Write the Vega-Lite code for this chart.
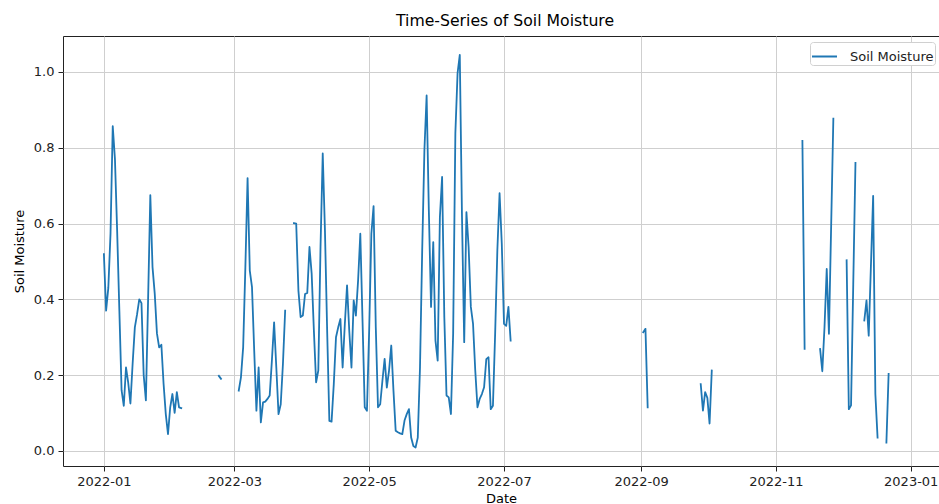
{
  "$schema": "https://vega.github.io/schema/vega-lite/v6.json",
  "autosize": {"type": "none"},
  "padding": {"left": 63, "top": 36, "right": 0, "bottom": 38},
  "width": 876,
  "height": 430,
  "background": "white",
  "config": {
    "font": "DejaVu Sans",
    "view": {"stroke": "#222", "strokeWidth": 1}
  },
  "title": {
    "text": "Time-Series of Soil Moisture",
    "fontSize": 15.7,
    "fontWeight": "normal",
    "font": "DejaVu Sans",
    "color": "#000",
    "anchor": "middle",
    "baseline": "alphabetic",
    "offset": -6,
    "dx": 4
  },
  "data": {
    "values": [
      {"date": "2022-01-01", "moisture": 0.519},
      {"date": "2022-01-02", "moisture": 0.37},
      {"date": "2022-01-03", "moisture": 0.43},
      {"date": "2022-01-04", "moisture": 0.574},
      {"date": "2022-01-05", "moisture": 0.857},
      {"date": "2022-01-06", "moisture": 0.77},
      {"date": "2022-01-07", "moisture": 0.58},
      {"date": "2022-01-08", "moisture": 0.37},
      {"date": "2022-01-09", "moisture": 0.16},
      {"date": "2022-01-10", "moisture": 0.119},
      {"date": "2022-01-11", "moisture": 0.22},
      {"date": "2022-01-12", "moisture": 0.18},
      {"date": "2022-01-13", "moisture": 0.125},
      {"date": "2022-01-14", "moisture": 0.23},
      {"date": "2022-01-15", "moisture": 0.326},
      {"date": "2022-01-16", "moisture": 0.36},
      {"date": "2022-01-17", "moisture": 0.4},
      {"date": "2022-01-18", "moisture": 0.39},
      {"date": "2022-01-19", "moisture": 0.2},
      {"date": "2022-01-20", "moisture": 0.133},
      {"date": "2022-01-21", "moisture": 0.4},
      {"date": "2022-01-22", "moisture": 0.675},
      {"date": "2022-01-23", "moisture": 0.485},
      {"date": "2022-01-24", "moisture": 0.415},
      {"date": "2022-01-25", "moisture": 0.31},
      {"date": "2022-01-26", "moisture": 0.273},
      {"date": "2022-01-27", "moisture": 0.28},
      {"date": "2022-01-28", "moisture": 0.177},
      {"date": "2022-01-29", "moisture": 0.097},
      {"date": "2022-01-30", "moisture": 0.044},
      {"date": "2022-01-31", "moisture": 0.115},
      {"date": "2022-02-01", "moisture": 0.15},
      {"date": "2022-02-02", "moisture": 0.1},
      {"date": "2022-02-03", "moisture": 0.155},
      {"date": "2022-02-04", "moisture": 0.115},
      {"date": "2022-02-05", "moisture": 0.113},
      {"date": "2022-02-06", "moisture": null},
      {"date": "2022-02-22", "moisture": 0.198},
      {"date": "2022-02-23", "moisture": 0.19},
      {"date": "2022-02-24", "moisture": null},
      {"date": "2022-03-03", "moisture": 0.159},
      {"date": "2022-03-04", "moisture": 0.194},
      {"date": "2022-03-05", "moisture": 0.273},
      {"date": "2022-03-06", "moisture": 0.485},
      {"date": "2022-03-07", "moisture": 0.72},
      {"date": "2022-03-08", "moisture": 0.476},
      {"date": "2022-03-09", "moisture": 0.432},
      {"date": "2022-03-10", "moisture": 0.265},
      {"date": "2022-03-11", "moisture": 0.106},
      {"date": "2022-03-12", "moisture": 0.22},
      {"date": "2022-03-13", "moisture": 0.075},
      {"date": "2022-03-14", "moisture": 0.128},
      {"date": "2022-03-15", "moisture": 0.13},
      {"date": "2022-03-16", "moisture": 0.137},
      {"date": "2022-03-17", "moisture": 0.146},
      {"date": "2022-03-18", "moisture": 0.238},
      {"date": "2022-03-19", "moisture": 0.339},
      {"date": "2022-03-20", "moisture": 0.22},
      {"date": "2022-03-21", "moisture": 0.097},
      {"date": "2022-03-22", "moisture": 0.123},
      {"date": "2022-03-23", "moisture": 0.23},
      {"date": "2022-03-24", "moisture": 0.37},
      {"date": "2022-03-25", "moisture": null},
      {"date": "2022-03-28", "moisture": 0.601},
      {"date": "2022-03-29", "moisture": 0.6},
      {"date": "2022-03-30", "moisture": 0.423},
      {"date": "2022-03-31", "moisture": 0.353},
      {"date": "2022-04-01", "moisture": 0.357},
      {"date": "2022-04-02", "moisture": 0.414},
      {"date": "2022-04-03", "moisture": 0.417},
      {"date": "2022-04-04", "moisture": 0.538},
      {"date": "2022-04-05", "moisture": 0.467},
      {"date": "2022-04-06", "moisture": 0.317},
      {"date": "2022-04-07", "moisture": 0.181},
      {"date": "2022-04-08", "moisture": 0.212},
      {"date": "2022-04-09", "moisture": 0.538},
      {"date": "2022-04-10", "moisture": 0.785},
      {"date": "2022-04-11", "moisture": 0.582},
      {"date": "2022-04-12", "moisture": 0.317},
      {"date": "2022-04-13", "moisture": 0.079},
      {"date": "2022-04-14", "moisture": 0.077},
      {"date": "2022-04-15", "moisture": 0.176},
      {"date": "2022-04-16", "moisture": 0.3},
      {"date": "2022-04-17", "moisture": 0.326},
      {"date": "2022-04-18", "moisture": 0.348},
      {"date": "2022-04-19", "moisture": 0.22},
      {"date": "2022-04-20", "moisture": 0.335},
      {"date": "2022-04-21", "moisture": 0.437},
      {"date": "2022-04-22", "moisture": 0.317},
      {"date": "2022-04-23", "moisture": 0.22},
      {"date": "2022-04-24", "moisture": 0.397},
      {"date": "2022-04-25", "moisture": 0.357},
      {"date": "2022-04-26", "moisture": 0.45},
      {"date": "2022-04-27", "moisture": 0.573},
      {"date": "2022-04-28", "moisture": 0.344},
      {"date": "2022-04-29", "moisture": 0.115},
      {"date": "2022-04-30", "moisture": 0.106},
      {"date": "2022-05-01", "moisture": 0.317},
      {"date": "2022-05-02", "moisture": 0.573},
      {"date": "2022-05-03", "moisture": 0.646},
      {"date": "2022-05-04", "moisture": 0.326},
      {"date": "2022-05-05", "moisture": 0.115},
      {"date": "2022-05-06", "moisture": 0.123},
      {"date": "2022-05-07", "moisture": 0.185},
      {"date": "2022-05-08", "moisture": 0.243},
      {"date": "2022-05-09", "moisture": 0.167},
      {"date": "2022-05-10", "moisture": 0.212},
      {"date": "2022-05-11", "moisture": 0.278},
      {"date": "2022-05-12", "moisture": 0.159},
      {"date": "2022-05-13", "moisture": 0.053},
      {"date": "2022-05-14", "moisture": 0.049},
      {"date": "2022-05-15", "moisture": 0.046},
      {"date": "2022-05-16", "moisture": 0.044},
      {"date": "2022-05-17", "moisture": 0.08},
      {"date": "2022-05-18", "moisture": 0.097},
      {"date": "2022-05-19", "moisture": 0.11},
      {"date": "2022-05-20", "moisture": 0.035},
      {"date": "2022-05-21", "moisture": 0.013},
      {"date": "2022-05-22", "moisture": 0.009},
      {"date": "2022-05-23", "moisture": 0.035},
      {"date": "2022-05-24", "moisture": 0.22},
      {"date": "2022-05-25", "moisture": 0.53},
      {"date": "2022-05-26", "moisture": 0.794},
      {"date": "2022-05-27", "moisture": 0.938},
      {"date": "2022-05-28", "moisture": 0.635},
      {"date": "2022-05-29", "moisture": 0.38},
      {"date": "2022-05-30", "moisture": 0.551},
      {"date": "2022-05-31", "moisture": 0.291},
      {"date": "2022-06-01", "moisture": 0.238},
      {"date": "2022-06-02", "moisture": 0.617},
      {"date": "2022-06-03", "moisture": 0.723},
      {"date": "2022-06-04", "moisture": 0.353},
      {"date": "2022-06-05", "moisture": 0.146},
      {"date": "2022-06-06", "moisture": 0.141},
      {"date": "2022-06-07", "moisture": 0.097},
      {"date": "2022-06-08", "moisture": 0.31},
      {"date": "2022-06-09", "moisture": 0.838},
      {"date": "2022-06-10", "moisture": 0.997},
      {"date": "2022-06-11", "moisture": 1.045},
      {"date": "2022-06-12", "moisture": 0.617},
      {"date": "2022-06-13", "moisture": 0.287},
      {"date": "2022-06-14", "moisture": 0.63},
      {"date": "2022-06-15", "moisture": 0.538},
      {"date": "2022-06-16", "moisture": 0.38},
      {"date": "2022-06-17", "moisture": 0.335},
      {"date": "2022-06-18", "moisture": 0.212},
      {"date": "2022-06-19", "moisture": 0.115},
      {"date": "2022-06-20", "moisture": 0.137},
      {"date": "2022-06-21", "moisture": 0.15},
      {"date": "2022-06-22", "moisture": 0.168},
      {"date": "2022-06-23", "moisture": 0.242},
      {"date": "2022-06-24", "moisture": 0.247},
      {"date": "2022-06-25", "moisture": 0.11},
      {"date": "2022-06-26", "moisture": 0.119},
      {"date": "2022-06-27", "moisture": 0.31},
      {"date": "2022-06-28", "moisture": 0.53},
      {"date": "2022-06-29", "moisture": 0.68},
      {"date": "2022-06-30", "moisture": 0.547},
      {"date": "2022-07-01", "moisture": 0.335},
      {"date": "2022-07-02", "moisture": 0.33},
      {"date": "2022-07-03", "moisture": 0.38},
      {"date": "2022-07-04", "moisture": 0.291},
      {"date": "2022-07-05", "moisture": null},
      {"date": "2022-09-02", "moisture": 0.313},
      {"date": "2022-09-03", "moisture": 0.322},
      {"date": "2022-09-04", "moisture": 0.115},
      {"date": "2022-09-05", "moisture": null},
      {"date": "2022-09-28", "moisture": 0.176},
      {"date": "2022-09-29", "moisture": 0.106},
      {"date": "2022-09-30", "moisture": 0.155},
      {"date": "2022-10-01", "moisture": 0.14},
      {"date": "2022-10-02", "moisture": 0.072},
      {"date": "2022-10-03", "moisture": 0.212},
      {"date": "2022-10-04", "moisture": null},
      {"date": "2022-11-13", "moisture": 0.818},
      {"date": "2022-11-14", "moisture": 0.269},
      {"date": "2022-11-15", "moisture": null},
      {"date": "2022-11-21", "moisture": 0.269},
      {"date": "2022-11-22", "moisture": 0.21},
      {"date": "2022-11-23", "moisture": 0.327},
      {"date": "2022-11-24", "moisture": 0.48},
      {"date": "2022-11-25", "moisture": 0.309},
      {"date": "2022-11-26", "moisture": 0.593},
      {"date": "2022-11-27", "moisture": 0.877},
      {"date": "2022-11-28", "moisture": null},
      {"date": "2022-12-03", "moisture": 0.503},
      {"date": "2022-12-04", "moisture": 0.11},
      {"date": "2022-12-05", "moisture": 0.12},
      {"date": "2022-12-06", "moisture": 0.44},
      {"date": "2022-12-07", "moisture": 0.76},
      {"date": "2022-12-08", "moisture": null},
      {"date": "2022-12-11", "moisture": 0.344},
      {"date": "2022-12-12", "moisture": 0.397},
      {"date": "2022-12-13", "moisture": 0.304},
      {"date": "2022-12-14", "moisture": 0.49},
      {"date": "2022-12-15", "moisture": 0.673},
      {"date": "2022-12-16", "moisture": 0.15},
      {"date": "2022-12-17", "moisture": 0.035},
      {"date": "2022-12-18", "moisture": null},
      {"date": "2022-12-21", "moisture": 0.022},
      {"date": "2022-12-22", "moisture": 0.203},
      {"date": "2022-12-23", "moisture": null}
    ]
  },
  "mark": {
    "type": "line",
    "strokeWidth": 1.8,
    "strokeCap": "square",
    "strokeJoin": "round",
    "invalid": "break-paths-show-domains",
    "clip": true
  },
  "encoding": {
    "x": {
      "field": "date",
      "type": "temporal",
      "scale": {
        "type": "utc",
        "domain": [
          {"year": 2021, "month": 12, "date": 13, "hours": 12, "utc": true},
          {"year": 2023, "month": 1, "date": 13, "hours": 19, "utc": true}
        ]
      },
      "axis": {
        "title": "Date",
        "values": [
          {"year": 2022, "month": 1, "date": 1, "utc": true},
          {"year": 2022, "month": 3, "date": 1, "utc": true},
          {"year": 2022, "month": 5, "date": 1, "utc": true},
          {"year": 2022, "month": 7, "date": 1, "utc": true},
          {"year": 2022, "month": 9, "date": 1, "utc": true},
          {"year": 2022, "month": 11, "date": 1, "utc": true},
          {"year": 2023, "month": 1, "date": 1, "utc": true}
        ],
        "format": "%Y-%m",
        "labelFontSize": 13,
        "labelColor": "#222",
        "labelPadding": 4,
        "tickSize": 5,
        "tickColor": "#222",
        "domain": false,
        "grid": true,
        "gridColor": "#cfcfcf",
        "gridWidth": 1,
        "titleFontSize": 13,
        "titleFontWeight": "normal",
        "titleColor": "#000",
        "titlePadding": 4,
        "labelFlush": false,
        "labelOverlap": false
      }
    },
    "y": {
      "field": "moisture",
      "type": "quantitative",
      "scale": {"domain": [-0.04, 1.095], "nice": false, "zero": false},
      "axis": {
        "title": "Soil Moisture",
        "values": [0, 0.2, 0.4, 0.6, 0.8, 1.0],
        "format": ".1f",
        "labelFontSize": 13,
        "labelColor": "#222",
        "labelPadding": 4,
        "tickSize": 5,
        "tickColor": "#222",
        "domain": false,
        "grid": true,
        "gridColor": "#cfcfcf",
        "gridWidth": 1,
        "titleFontSize": 13,
        "titleFontWeight": "normal",
        "titleColor": "#000",
        "titlePadding": 7,
        "labelFlush": false
      }
    },
    "color": {
      "datum": "Soil Moisture",
      "type": "nominal",
      "scale": {"range": ["#1f77b4"]},
      "legend": {
        "title": null,
        "orient": "none",
        "legendX": 747,
        "legendY": 6,
        "symbolType": "stroke",
        "symbolStrokeWidth": 2,
        "symbolSize": 625,
        "labelFontSize": 13,
        "labelColor": "#222",
        "labelOffset": 12,
        "padding": 1,
        "strokeColor": "#d0d0d0",
        "fillColor": "white",
        "cornerRadius": 3
      }
    }
  }
}
